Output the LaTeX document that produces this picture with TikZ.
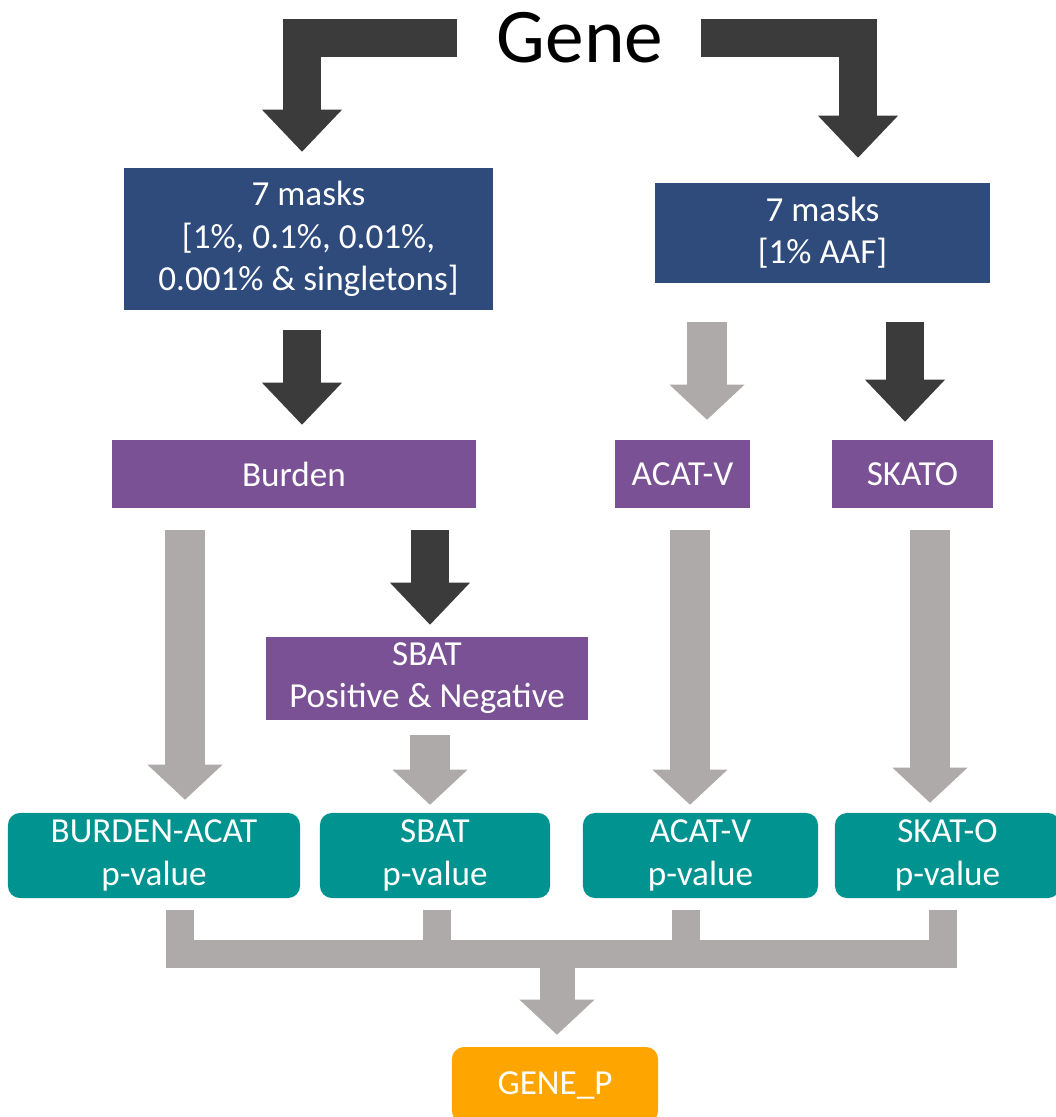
\documentclass[tikz,border=0pt]{standalone}
\usepackage{fontspec}
\setmainfont{Carlito}
\usetikzlibrary{arrows.meta}
\definecolor{maskblue}{HTML}{2E4B7C}
\definecolor{testpurple}{HTML}{7B5195}
\definecolor{pteal}{HTML}{00938F}
\definecolor{geneorange}{HTML}{FFA500}
\definecolor{arrowdark}{HTML}{3B3B3B}
\definecolor{arrowgray}{HTML}{AEAAA9}

\tikzset{
  box/.style={inner sep=0pt, align=center, text=white, font=\fontsize{25}{30}\selectfont},
  maskbox/.style={box, fill=maskblue},
  testbox/.style={box, fill=testpurple, minimum height=1.7cm},
  pbox/.style={box, fill=pteal, rounded corners=0.3cm, minimum height=2.125cm},
  genetext/.style={inner sep=0pt, font=\fontsize{55}{60}\selectfont},
  darkarr/.style={draw=arrowdark, line width=0.95cm,
    -{Triangle[width=2cm,length=1.05cm,line width=0pt]}},
  grayarr/.style={draw=arrowgray, line width=1cm,
    -{Triangle[width=1.875cm,length=0.875cm,line width=0pt]}},
  graybar/.style={draw=arrowgray, line width=0.72cm, line join=miter}
}

\begin{document}
\begin{tikzpicture}[x=0.025cm, y=-0.025cm]
  \useasboundingbox (0,0) rectangle (1056,1117);
  \clip (0,0) rectangle (1056,1117);
  % Arrow columns
  \coordinate (c1) at (302,0);
  \coordinate (c2) at (858,0);
  \coordinate (c3) at (707,0);
  \coordinate (c4) at (905,0);
  \coordinate (c5) at (185,0);
  \coordinate (c6) at (430,0);
  \coordinate (c7) at (690,0);
  \coordinate (c8) at (930,0);
  % Merge columns
  \coordinate (k1) at (180,0);
  \coordinate (k2) at (437,0);
  \coordinate (k3) at (686,0);
  \coordinate (k4) at (943,0);
  \coordinate (merge) at (557,954);
  % Gene
  \node[genetext] (gene) at (580,38) {Gene};
  % Masks
  \node[maskbox, minimum width=9.225cm, minimum height=3.55cm] (masks1) at (308.5,239)
    {7 masks\\{}[1\%, 0.1\%, 0.01\%,\\0.001\% \& singletons]};
  \node[maskbox, minimum width=8.375cm, minimum height=2.5cm] (masks2) at (822.5,233)
    {7 masks\\{}[1\% AAF]};
  % Tests
  \node[testbox, minimum width=9.1cm] (burden) at (294,474) {Burden};
  \node[testbox, minimum width=3.375cm] (acatv) at (682.5,474) {ACAT-V};
  \node[testbox, minimum width=4.025cm] (skato) at (912.5,474) {SKATO};
  \node[testbox, minimum width=8.05cm, minimum height=2.075cm] (sbat) at (427,678.5)
    {SBAT\\Positive \& Negative};
  % p-values
  \node[pbox, minimum width=7.3cm] (pburden) at (154,855.5) {BURDEN-ACAT\\p-value};
  \node[pbox, minimum width=5.75cm] (psbat) at (435,855.5) {SBAT\\p-value};
  \node[pbox, minimum width=5.875cm] (pacatv) at (700.5,855.5) {ACAT-V\\p-value};
  \node[pbox, minimum width=5.625cm] (pskato) at (947.5,855.5) {SKAT-O\\p-value};
  \node[box, fill=geneorange, rounded corners=0.3cm, minimum width=5.15cm,
    minimum height=1.9cm] (genep) at (555,1085) {GENE\_P};
  % Gene to masks
  \draw[darkarr, shorten <=1cm, shorten >=0.4cm] (gene.west) -| (masks1.north -| c1);
  \draw[darkarr, shorten <=0.93cm, shorten >=0.625cm] (gene.east) -| (masks2.north -| c2);
  % Masks to tests
  \draw[darkarr, shorten <=0.5cm, shorten >=0.375cm] (masks1.south -| c1) -- (burden.north -| c1);
  \draw[grayarr, shorten <=0.975cm, shorten >=0.5cm] (masks2.south -| c3) -- (acatv.north -| c3);
  \draw[darkarr, shorten <=0.975cm, shorten >=0.45cm] (masks2.south -| c4) -- (skato.north -| c4);
  \draw[darkarr, shorten <=0.55cm, shorten >=0.3cm] (burden.south -| c6) -- (sbat.north -| c6);
  % Tests to p-values
  \draw[grayarr, shorten <=0.55cm, shorten >=0.325cm] (burden.south -| c5) -- (pburden.north -| c5);
  \draw[grayarr, shorten <=0.375cm, shorten >=0.2cm] (sbat.south -| c6) -- (psbat.north -| c6);
  \draw[grayarr, shorten <=0.55cm, shorten >=0.2cm] (acatv.south -| c7) -- (pacatv.north -| c7);
  \draw[grayarr, shorten <=0.55cm, shorten >=0.25cm] (skato.south -| c8) -- (pskato.north -| c8);
  % Merge into GENE_P
  \draw[graybar, shorten <=0.3cm, shorten >=0.3cm] (pburden.south -| k1) |- (merge) -| (pskato.south -| k4);
  \draw[graybar, shorten <=0.3cm] (psbat.south -| k2) -- (merge -| k2);
  \draw[graybar, shorten <=0.3cm] (pacatv.south -| k3) -- (merge -| k3);
  \draw[grayarr, line width=0.875cm, shorten >=0.3cm] (merge) -- (genep.north -| merge);
\end{tikzpicture}
\end{document}
